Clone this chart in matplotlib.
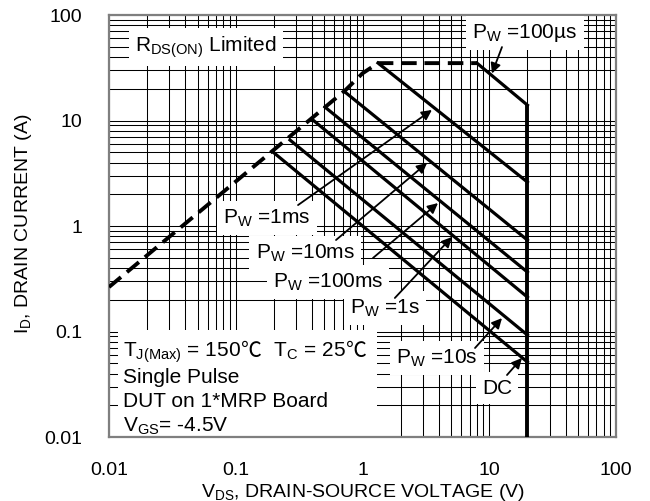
import matplotlib
matplotlib.use("Agg")
import matplotlib.pyplot as plt
from matplotlib.patches import Rectangle
from matplotlib.offsetbox import TextArea, HPacker, AnnotationBbox

# ---------------- data ----------------
x_ticks = [0.01, 0.1, 1, 10, 100]
x_tick_labels = ["0.01", "0.1", "1", "10", "100"]
y_ticks = [0.01, 0.1, 1, 10, 100]
y_tick_labels = ["0.01", "0.1", "1", "10", "100"]

# RDS(on) limited boundary (dashed)
rds_v = [0.01, 0.73, 1.0, 1.325, 8.0]
rds_i = [0.264, 19.3, 28.0, 35.0, 35.0]

# 100 us pulse boundary
pw100us_v = [8.0, 20.0]
pw100us_i = [35.0, 14.0]

# pulse-width lines: start on the RDS line, end on the 20 V limit
pw_names = ["1ms", "10ms", "100ms", "1s", "10s", "DC"]
pw_start_v = [1.325, 0.728, 0.506, 0.407, 0.268, 0.197]
pw_start_i = [35.1, 18.6, 13.4, 10.1, 6.53, 5.02]
pw_end_v = [20.0, 20.0, 20.0, 20.0, 20.0, 20.0]
pw_end_i = [2.61, 0.736, 0.366, 0.212, 0.0927, 0.0514]

# VDS max limit
vmax_v = [20.0, 20.0]
vmax_i = [14.0, 0.01]

# ---------------- style ----------------
plt.rcParams['font.family'] = ['Liberation Sans', 'DejaVu Sans']
plt.rcParams['mathtext.fontset'] = 'custom'
plt.rcParams['mathtext.rm'] = 'Liberation Sans'
plt.rcParams['mathtext.it'] = 'Liberation Sans:italic'
plt.rcParams['mathtext.bf'] = 'Liberation Sans:bold'
plt.rcParams['mathtext.default'] = 'regular'

fig = plt.figure(figsize=(6.5, 5.01), dpi=100)
ax = fig.add_axes([0.1677, 0.1277, 0.9477 - 0.1677, 0.970 - 0.1277])
ax.set_xscale('log')
ax.set_yscale('log')
ax.set_xlim(0.01, 100)
ax.set_ylim(0.01, 100)

ax.set_xticks(x_ticks)
ax.set_xticklabels(x_tick_labels)
ax.set_yticks(y_ticks)
ax.set_yticklabels(y_tick_labels)
ax.tick_params(which='both', length=0)
ax.tick_params(axis='x', pad=18, labelsize=14)
ax.tick_params(axis='y', pad=19, labelsize=14)
ax.minorticks_on()
ax.tick_params(which='minor', length=0)
ax.xaxis.set_minor_formatter(plt.NullFormatter())
ax.yaxis.set_minor_formatter(plt.NullFormatter())

ax.grid(True, which='both', color='black', linewidth=0.75)
for sp in ax.spines.values():
    sp.set_color('#7f7f7f')
    sp.set_linewidth(1.6)

ax.set_xlabel(r"V$_{DS}$, DRAIN-SOURCE VOLTAGE (V)", fontsize=14, va='baseline')
ax.xaxis.set_label_coords(0.5, -0.141)
ax.set_ylabel(r"I$_{D}$, DRAIN CURRENT (A)", fontsize=14, va='center')
ax.yaxis.set_label_coords(-0.168, 0.505)

# white block behind the conditions text
ax.add_patch(Rectangle((0.018, 0.0), 0.511, 0.254, transform=ax.transAxes,
                       facecolor='white', edgecolor='none', zorder=2))

# ---------------- curves ----------------
LW = 2.3
ax.plot(rds_v, rds_i, color='black', lw=2.8, linestyle=(0, (4, 2)), zorder=4,
        solid_capstyle='butt', dash_capstyle='butt')
ax.plot(pw100us_v, pw100us_i, color='black', lw=LW, zorder=4)
for sv, si, ev, ei in zip(pw_start_v, pw_start_i, pw_end_v, pw_end_i):
    ax.plot([sv, ev], [si, ei], color='black', lw=LW, zorder=4)
ax.plot(vmax_v, vmax_i, color='black', lw=2.8, zorder=4, solid_capstyle='butt')

# ---------------- annotations ----------------
FS = 15
box = dict(boxstyle='square,pad=0.3', fc='white', ec='none')
arrow = dict(arrowstyle='-|>', color='black', lw=1.3, mutation_scale=15,
             shrinkA=0, shrinkB=0)

ax.text(0.0582, 49.7, r"R$_{DS(ON)}$ Limited", fontsize=FS, ha='center', va='center',
        bbox=box, zorder=3)

ax.text(19.1, 67.5, r"P$_{W}$ =100µs", fontsize=FS, ha='center', va='center',
        bbox=box, zorder=3)
ax.annotate("", xy=(10.5, 27.9), xytext=(12.6, 49.7), arrowprops=arrow, zorder=5)

label_pos = [(0.1764, 1.19), (0.3516, 0.555), (0.535, 0.294), (1.505, 0.167),
             (3.87, 0.0561), (11.5, 0.0291)]
arrow_tail = [(0.310, 1.58), (0.618, 0.737), (1.21, 0.498), (1.80, 0.208),
              (7.72, 0.0698), (13.8, 0.0387)]
arrow_head = [(3.53, 12.6), (3.23, 3.96), (3.94, 1.65), (5.08, 0.787),
              (12.6, 0.134), (18.1, 0.0561)]
for name, pos, tail, head in zip(pw_names, label_pos, arrow_tail, arrow_head):
    txt = name if name == "DC" else r"P$_{W}$ =" + name
    ax.text(pos[0], pos[1], txt, fontsize=FS, ha='center', va='center',
            bbox=box, zorder=3)
    ax.annotate("", xy=head, xytext=tail, arrowprops=arrow, zorder=5)

# conditions text
main = dict(fontsize=FS, family=['Liberation Sans', 'DejaVu Sans'])
cjk = dict(fontsize=FS, family=['Noto Sans CJK SC', 'DejaVu Sans'])
parts = [TextArea(r"T$_{J(Max)}$ = 150", textprops=main),
         TextArea("℃", textprops=cjk),
         TextArea(r"  T$_{C}$ = 25", textprops=main),
         TextArea("℃", textprops=cjk)]
hp = HPacker(children=parts, align='baseline', pad=0, sep=0)
ab = AnnotationBbox(hp, (0.0129, 0.0481), xycoords='data', box_alignment=(0, 0),
                    frameon=False, pad=0, zorder=6)
ax.add_artist(ab)

ax.text(0.0129, 0.0325, "Single Pulse", fontsize=FS, ha='left', va='baseline', zorder=6)
ax.text(0.0129, 0.0192, "DUT on 1*MRP Board", fontsize=FS, ha='left', va='baseline', zorder=6)
ax.text(0.0129, 0.01114, r"V$_{GS}$= -4.5V", fontsize=FS, ha='left', va='baseline', zorder=6)

fig.savefig("out.png", dpi=100)
